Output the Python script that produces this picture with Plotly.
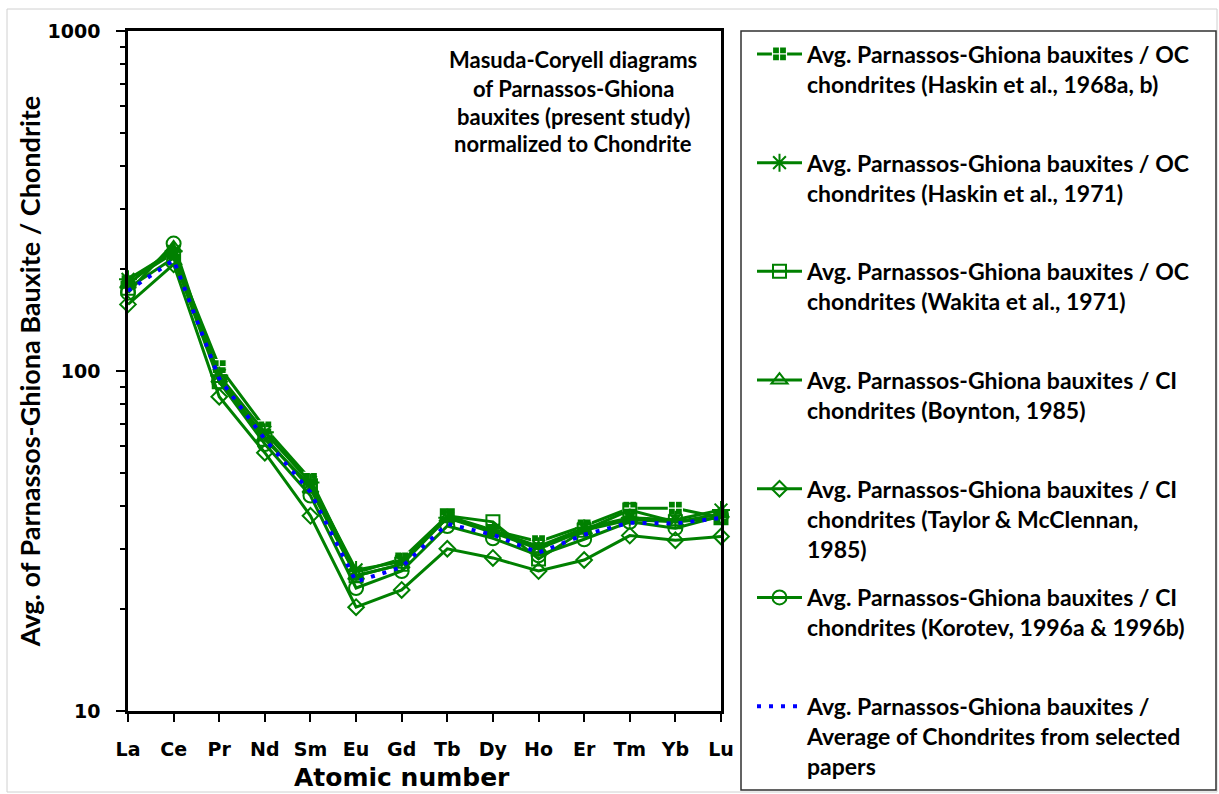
import plotly.graph_objects as go

# Rare earth elements on the x axis (atomic-number order)
elements = ["La", "Ce", "Pr", "Nd", "Sm", "Eu", "Gd", "Tb", "Dy", "Ho", "Er", "Tm", "Yb", "Lu"]

# Average Parnassos-Ghiona bauxite normalised to different chondrite sets
haskin_1968 = [183, 222, 103, 68, 48, 25.5, 28, 37.5, 34, 31.5, 35, 39.5, 39.5, 37]
haskin_1971 = [186, 225, 97, 66, 47, 26, 27.5, 37, 34, 30.5, 34.5, 37, 36.5, 39]
wakita_1971 = [175, 215, 93, 63, 46, 25, 27, 37.5, 36, 28, 34, 39, 36, 37]
boynton_1985 = [180, 230, 95, 64, 45, 25, 27, 37, 33.5, 30, 34, 36.5, 36, 38]
taylor_mcclennan_1985 = [157, 206, 84, 57.5, 37.5, 20.2, 22.7, 30, 28.2, 25.8, 27.8, 32.8, 31.8, 32.6]
korotev_1996 = [170, 237, 93, 61, 43, 23, 25.8, 35, 32.2, 28.7, 32, 36, 34.5, 37.5]
average_chondrites = [172, 212, 95, 63, 44, 24, 26.5, 35.5, 33, 29.2, 33, 35.8, 35.6, 37]

y_ticks = [10, 100, 1000]
y_minor = [20, 30, 40, 50, 60, 70, 80, 90, 200, 300, 400, 500, 600, 700, 800, 900]

GREEN = "#008000"
BLUE = "#0000FF"
TEXT_FONT = "Lato"
TICK_FONT = "DejaVu Sans"

series = [
    (haskin_1968, "Avg. Parnassos-Ghiona bauxites / OC<br>chondrites (Haskin et al., 1968a, b)<br> ",
     dict(symbol="square-cross", size=14, color=GREEN, line=dict(color="white", width=1.2))),
    (haskin_1971, "Avg. Parnassos-Ghiona bauxites / OC<br>chondrites (Haskin et al., 1971)<br> ",
     dict(symbol="asterisk-open", size=15, color=GREEN, line=dict(color=GREEN, width=2))),
    (wakita_1971, "Avg. Parnassos-Ghiona bauxites / OC<br>chondrites (Wakita et al., 1971)<br> ",
     dict(symbol="square-open", size=13, color=GREEN, line=dict(color=GREEN, width=2))),
    (boynton_1985, "Avg. Parnassos-Ghiona bauxites / CI<br>chondrites (Boynton, 1985)<br> ",
     dict(symbol="triangle-up-open", size=14, color=GREEN, line=dict(color=GREEN, width=2))),
    (taylor_mcclennan_1985, "Avg. Parnassos-Ghiona bauxites / CI<br>chondrites (Taylor & McClennan,<br>1985)",
     dict(symbol="diamond-open", size=12, color=GREEN, line=dict(color=GREEN, width=2))),
    (korotev_1996, "Avg. Parnassos-Ghiona bauxites / CI<br>chondrites (Korotev, 1996a & 1996b)<br> ",
     dict(symbol="circle-open", size=14, color=GREEN, line=dict(color=GREEN, width=2))),
]

x_idx = list(range(len(elements)))

fig = go.Figure()
for i, (vals, name, marker) in enumerate(series):
    fig.add_trace(go.Scatter(
        x=x_idx, y=vals, name=name, mode="lines+markers",
        line=dict(color=GREEN, width=3), marker=marker,
        cliponaxis=False, legendgroup=f"g{i}",
    ))

fig.add_trace(go.Scatter(
    x=x_idx, y=average_chondrites,
    name="Avg. Parnassos-Ghiona bauxites /<br>Average of Chondrites from selected<br>papers",
    mode="lines", line=dict(color=BLUE, width=4, dash="4px,8px"),
    cliponaxis=False, legendgroup="g6",
))

W, H = 1219, 794
L, R, T, B = 128, 498, 31, 83
PW, PH = W - L - R, H - T - B


def px_x(px):
    return (px - L) / PW


def px_y(py):
    return (H - B - py) / PH


fig.update_layout(
    width=W, height=H,
    margin=dict(l=L, r=R, t=T, b=B),
    paper_bgcolor="white", plot_bgcolor="white",
    showlegend=True,
    legend=dict(
        x=px_x(752), y=px_y(32.5), xanchor="left", yanchor="top",
        bgcolor="rgba(0,0,0,0)", borderwidth=0,
        font=dict(family=TEXT_FONT, size=23, color="black", weight="bold"),
        itemwidth=45, valign="top", tracegroupgap=16,
        traceorder="grouped", maxheight=900,
    ),
    xaxis=dict(
        range=[0, 13], tickmode="array", tickvals=x_idx, ticktext=elements,
        showgrid=False, zeroline=False,
        showline=True, linecolor="black", linewidth=2.5, mirror=True,
        ticks="outside", ticklen=8, tickwidth=2, tickcolor="black",
        ticklabelstandoff=11,
        tickfont=dict(family=TICK_FONT, size=19, color="black", weight="bold"),
    ),
    yaxis=dict(
        type="log", range=[1, 3], tickmode="array", tickvals=y_ticks,
        ticktext=[str(v) for v in y_ticks],
        showgrid=False, zeroline=False,
        showline=True, linecolor="black", linewidth=2.5, mirror=True,
        ticks="outside", ticklen=9, tickwidth=2, tickcolor="black",
        ticklabelstandoff=12,
        tickfont=dict(family=TICK_FONT, size=19, color="black", weight="bold"),
        minor=dict(tickmode="array", tickvals=y_minor, ticks="outside",
                   ticklen=5, tickwidth=2, tickcolor="black"),
        title=dict(text="Avg. of Parnassos-Ghiona Bauxite / Chondrite",
                   font=dict(family=TEXT_FONT, size=27, color="black", weight="bold"),
                   standoff=0),
    ),
)

# chart-area and legend frames
fig.add_shape(type="rect", xref="paper", yref="paper",
              x0=px_x(7), x1=px_x(1217), y0=px_y(792), y1=px_y(9),
              line=dict(color="#d0d0d0", width=1), layer="below")
fig.add_shape(type="rect", xref="paper", yref="paper",
              x0=px_x(741), x1=px_x(1216), y0=px_y(790), y1=px_y(31),
              line=dict(color="#303030", width=1.5))

# x-axis title
fig.add_annotation(text="Atomic number", xref="paper", yref="paper",
                   x=px_x(402), y=px_y(777), showarrow=False,
                   xanchor="center", yanchor="middle",
                   font=dict(family=TICK_FONT, size=25, color="black", weight="bold"))

# in-plot caption
caption = ["Masuda-Coryell diagrams", "of Parnassos-Ghiona",
           "bauxites (present study)", "normalized to Chondrite"]
for k, line in enumerate(caption):
    fig.add_annotation(text=line, xref="paper", yref="paper",
                       x=px_x(573), y=px_y(60 + 28 * k), showarrow=False,
                       xanchor="center", yanchor="middle",
                       font=dict(family=TEXT_FONT, size=22, color="black", weight="bold"))

fig.write_html("out.html")
